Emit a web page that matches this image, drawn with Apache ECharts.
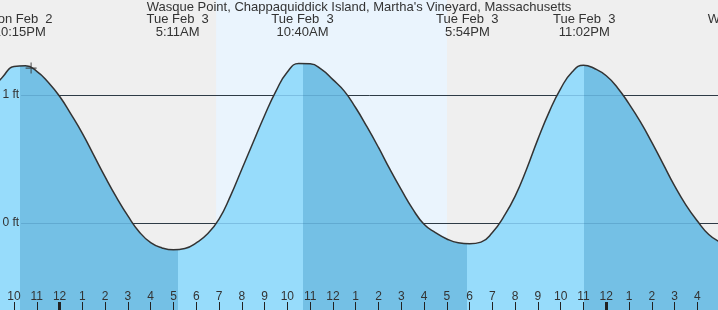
<!DOCTYPE html>
<html><head><meta charset="utf-8">
<script src="https://cdn.jsdelivr.net/npm/echarts@6/dist/echarts.min.js"></script>
<style>html,body{margin:0;padding:0;background:#efefef}#c{width:718px;height:310px}</style>
</head><body><div id="c"></div>
<script>
// ---- data (hours counted from Mon Feb 2 00:00) ----
const chartTitle = "Wasque Point, Chappaquiddick Island, Martha's Vineyard, Massachusetts";
const tideHours = [21, 21.5, 22, 22.5, 23, 23.5, 24, 24.5, 25, 25.5, 26, 26.5, 27, 27.5, 28, 28.5, 29, 29.5,
  30, 30.5, 31, 31.5, 32, 32.5, 33, 33.5, 34, 34.5, 35, 35.5, 36, 36.5, 37, 37.5, 38, 38.5, 39, 39.5,
  40, 40.5, 41, 41.5, 42, 42.5, 43, 43.5, 44, 44.5, 45, 45.5, 46, 46.5, 47, 47.5, 48, 48.5, 49, 49.5,
  50, 50.5, 51, 51.5, 52, 52.5, 53, 53.5, 54];
const tideFeet = [1.03, 1.14, 1.222, 1.228, 1.185, 1.10, 0.99, 0.85, 0.70, 0.53, 0.36, 0.20, 0.055, -0.07, -0.154, -0.195, -0.21, -0.20,
  -0.155, -0.085, 0.03, 0.21, 0.42, 0.63, 0.84, 1.03, 1.18, 1.245, 1.243, 1.20, 1.12, 1.03, 0.90, 0.75, 0.59, 0.42, 0.26, 0.11,
  -0.01, -0.075, -0.125, -0.155, -0.163, -0.15, -0.075, 0.05, 0.21, 0.42, 0.655, 0.87, 1.05, 1.18, 1.233, 1.205, 1.15, 1.055, 0.93, 0.79,
  0.63, 0.46, 0.29, 0.14, 0.015, -0.09, -0.15, -0.19, -0.21];
const extremeHours = [22.25, 29.183, 34.667, 41.9, 47.033];
const extremeKinds = ['H', 'L', 'H', 'L', 'H'];
const extremeDates = ['Mon Feb  2', 'Tue Feb  3', 'Tue Feb  3', 'Tue Feb  3', 'Tue Feb  3'];
const extremeTimes = ['10:15PM', '5:11AM', '10:40AM', '5:54PM', '11:02PM'];
const nextHour = 53.93, nextDate = 'Wed Feb  4', nextTime = '5:56AM';
const hourTicks = [22,23,24,25,26,27,28,29,30,31,32,33,34,35,36,37,38,39,40,41,42,43,44,45,46,47,48,49,50,51,52];
const midnightTicks = [24, 48];
const sunriseHour = 30.87, sunsetHour = 41.01;
const gridFeet = [0, 1];
const lineStartHour = 22.31;
const nowHour = 22.75, nowFeet = 1.21;
const xMin = 21.385, xMax = 52.905, yMin = -0.68, yMax = 1.742;

const FONT = '"Liberation Sans", Arial, sans-serif';
const LIGHT = '#97dcfb', DARK = '#74c0e5', TXT = '#333';

const tideData = tideHours.map((h, i) => [h, tideFeet[i]]);
const bounds = [xMin - 10].concat(extremeHours, [xMax + 10]);
const pieces = [];
for (let i = 0; i < bounds.length - 1; i++) {
  const kindAtEnd = i < extremeKinds.length ? extremeKinds[i] : 'L';
  pieces.push({gte: bounds[i], lt: bounds[i + 1], color: kindAtEnd === 'H' ? LIGHT : DARK});
}

const chart = echarts.init(document.getElementById('c'), null, {renderer: 'canvas'});
const option = {
  animation: false,
  backgroundColor: '#efefef',
  title: {text: chartTitle, left: 'center', top: 1, padding: 0,
    textStyle: {fontFamily: FONT, fontSize: 13, fontWeight: 'normal', color: TXT}},
  grid: {left: 0, right: 0, top: 0, bottom: 0},
  visualMap: {type: 'piecewise', show: false, dimension: 0, seriesIndex: 1, pieces: pieces},
  xAxis: [
    {type: 'value', min: xMin, max: xMax, position: 'bottom', z: 10,
      splitLine: {show: false}, axisLine: {show: false, onZero: false},
      axisTick: {show: true, inside: true, length: 8, customValues: hourTicks, lineStyle: {color: '#222', width: 1}},
      axisLabel: {show: true, inside: true, margin: 7, customValues: hourTicks,
        formatter: v => String((Math.round(v) % 12) || 12),
        fontFamily: FONT, fontSize: 12, color: TXT}},
    {type: 'value', min: xMin, max: xMax, position: 'bottom', offset: 0, z: 10,
      splitLine: {show: false}, axisLine: {show: false, onZero: false}, axisLabel: {show: false},
      axisTick: {show: true, inside: true, length: 8, customValues: midnightTicks, lineStyle: {color: '#222', width: 3}}}
  ],
  yAxis: {type: 'value', min: yMin, max: yMax, show: false, splitLine: {show: false}},
  series: [
    {type: 'line', data: [], z: 0,
      markArea: {silent: true, z: 0, itemStyle: {color: '#eaf4fd'},
        data: [[{xAxis: sunriseHour}, {xAxis: sunsetHour}]]},
      markLine: {silent: true, z: 1, symbol: ['none', 'none'],
        lineStyle: {color: '#333', width: 1, type: 'solid'}, label: {show: false},
        data: gridFeet.map(f => [{coord: [lineStartHour, f]}, {coord: [xMax, f]}])}},
    {type: 'line', data: tideData, smooth: 0.5, symbol: 'none', z: 2,
      lineStyle: {width: 0}, areaStyle: {opacity: 1, origin: 'start'},
      markLine: {silent: true, z: 3, symbol: ['none', 'none'],
        lineStyle: {color: 'rgba(30,90,140,0.22)', width: 1, type: 'solid'},
        label: {show: true, position: 'start', distance: 2, fontFamily: FONT, fontSize: 12, color: TXT,
          formatter: p => p.name},
        data: gridFeet.map(f => [{coord: [lineStartHour, f], name: f + ' ft'}, {coord: [xMax, f]}])}},
    {type: 'line', data: tideData, smooth: 0.5, symbol: 'none', z: 4,
      lineStyle: {color: '#333', width: 1.5},
      markPoint: {silent: true, z: 5, symbol: 'circle', symbolSize: 1, itemStyle: {color: 'rgba(0,0,0,0)'},
        label: {show: true, position: 'bottom', distance: 12, fontFamily: FONT, fontSize: 13, lineHeight: 13, color: TXT, align: 'center'},
        data: extremeHours.map((h, i) => ({coord: [h, yMax], label: {formatter: extremeDates[i] + '\n' + extremeTimes[i]}}))}},
    {type: 'scatter', data: [[nowHour, nowFeet]], z: 6, silent: true,
      symbol: 'path://M4.5,0h1v10h-1zM0,4.5h10v1h-10z', symbolSize: 11, itemStyle: {color: '#333'}}
  ]
};
chart.setOption(option);
const nx = chart.convertToPixel({xAxisIndex: 0}, nextHour);
chart.setOption({graphic: [{type: 'text', x: nx, y: 13, z: 10,
  style: {text: nextDate + '\n' + nextTime, align: 'center', font: '13px ' + FONT, lineHeight: 13, fill: TXT}}]});
</script></body></html>
